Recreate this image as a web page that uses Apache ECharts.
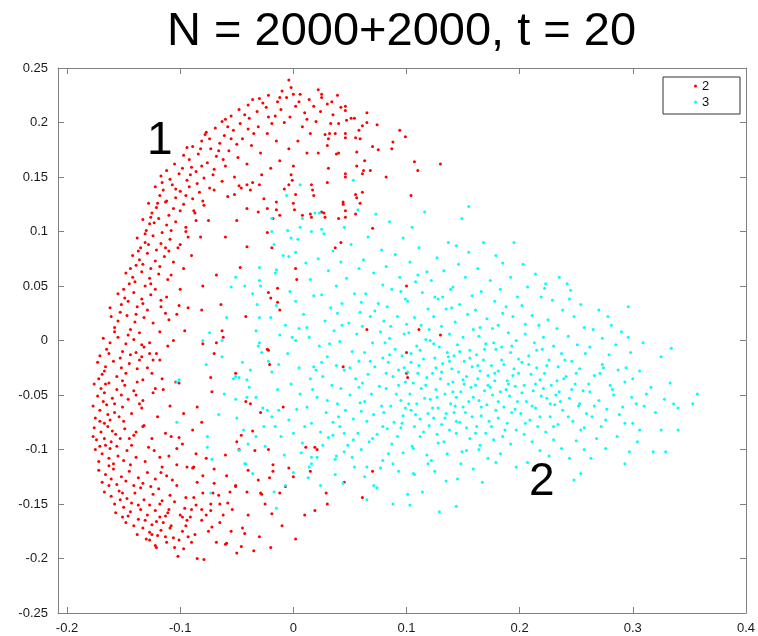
<!DOCTYPE html>
<html>
<head>
<meta charset="utf-8">
<title>N = 2000+2000, t = 20</title>
<script src="https://cdn.jsdelivr.net/npm/echarts@6.0.0/dist/echarts.min.js"></script>
<style>
  html, body { margin: 0; padding: 0; background: #fff; }
  #chart { width: 758px; height: 636px; }
</style>
</head>
<body>
<div id="chart"></div>
<script>
// values (estimated where points are dense)
const seriesNames = ["2", "3"];
const xTicks = [-0.2, -0.1, 0, 0.1, 0.2, 0.3, 0.4];

// cluster 1 (red): horseshoe
const redPoints = [
  // top arc, right part
  [0.130,0.162],[0.099,0.187],[0.094,0.193],[0.107,0.164],[0.110,0.156],[0.088,0.182],[0.087,0.176],[0.082,0.150],[0.104,0.133],[0.074,0.198],
  [0.075,0.175],[0.070,0.178],[0.065,0.209],[0.065,0.200],[0.056,0.131],[0.059,0.126],[0.068,0.156],[0.062,0.156],[0.061,0.153],[0.056,0.160],
  [0.063,0.165],[0.056,0.173],[0.058,0.193],[0.059,0.185],[0.061,0.197],[0.054,0.204],[0.051,0.204],[0.046,0.215],[0.046,0.211],[0.039,0.225],
  [0.042,0.214],[0.034,0.219],[0.030,0.217],[0.025,0.226],[0.025,0.223],[0.022,0.230],[0.035,0.207],[0.040,0.199],[0.047,0.202],[0.033,0.199],
  [0.037,0.190],[0.046,0.190],[0.046,0.186],[0.055,0.186],[0.032,0.190],[0.028,0.189],[0.031,0.185],[0.030,0.179],[0.040,0.172],[0.038,0.171],
  [0.022,0.172],[0.031,0.158],[0.030,0.145],[0.046,0.153],[0.046,0.150],[0.044,0.125],[0.046,0.119],[0.055,0.116],[0.046,0.113],[0.040,0.112],
  [0.027,0.117],[0.018,0.133],[0.017,0.138],[0.016,0.143],[-0.004,0.143],[-0.001,0.147],[0.002,0.134],[0.000,0.126],[0.001,0.120],[0.008,0.115],
  [0.015,0.116],[0.016,0.113],[-0.015,0.120],[-0.012,0.115],[0.055,0.134],[0.061,0.136],[0.025,0.118],[0.028,0.113],[0.044,0.127],[0.042,0.090],
  [0.037,0.085],[0.070,0.103],
  // upper interior
  [-0.052,0.134],[-0.048,0.142],[-0.041,0.143],[-0.038,0.138],[-0.030,0.143],[-0.041,0.121],[-0.031,0.118],[-0.026,0.130],[-0.023,0.099],[-0.019,0.085],
  [-0.041,0.086],[-0.047,0.067],[-0.042,0.022],[-0.022,0.044],[-0.020,0.039],[-0.014,0.048],[-0.014,0.035],[-0.012,0.028],[0.002,0.066],[0.003,0.056],
  [-0.008,0.139],[-0.002,0.152],[-0.023,0.121],[-0.015,0.127],[-0.018,0.112],
  // points among cluster 2
  [0.100,0.050],[0.065,0.010],[0.111,0.010],[0.130,0.005],[0.100,-0.011],[0.100,-0.030],[0.101,-0.034],[0.044,-0.024],[-0.021,-0.022],[-0.022,-0.009],
  [-0.051,-0.030],[-0.009,-0.061],[-0.029,-0.066],[-0.023,-0.008],[-0.042,-0.056],[-0.038,-0.058],
  // lower interior
  [-0.046,-0.087],[-0.036,-0.083],[-0.050,-0.093],[-0.048,-0.100],[-0.034,-0.101],[-0.022,-0.100],[0.011,-0.098],[0.019,-0.098],[0.021,-0.100],[-0.018,-0.114],
  [-0.018,-0.120],[-0.040,-0.119],[-0.004,-0.117],[-0.031,-0.128],[-0.021,-0.126],[-0.007,-0.134],[-0.051,-0.134],[-0.041,-0.139],[-0.028,-0.141],[-0.056,-0.139],
  [0.029,-0.140],[0.061,-0.144],[-0.054,-0.155],[-0.019,-0.159],[0.019,-0.156],[-0.045,-0.172],[-0.043,-0.177],[0.002,-0.182],[-0.046,-0.189],[-0.035,-0.193],
  [-0.029,-0.140],
  // left interior, sparse
  [-0.064,0.033],[-0.081,0.028],[-0.101,0.032],[-0.103,0.024],[-0.110,0.019],[-0.117,0.031],[-0.113,0.025],[-0.062,0.003],[-0.063,0.009],[-0.068,-0.002],
  [-0.070,-0.012],[-0.096,0.009],[-0.106,0.000],[-0.080,-0.003],[-0.073,-0.034],[-0.072,-0.047],[-0.085,-0.061],[-0.097,-0.067],[-0.081,-0.075],[-0.089,-0.082],
  [-0.101,-0.089],[-0.108,-0.088],[-0.103,-0.099],[-0.086,-0.104],[-0.077,-0.108],[-0.094,-0.116],[-0.089,-0.117],[-0.088,-0.116],[-0.080,-0.124],[-0.070,-0.131],
  [-0.059,-0.124],[-0.051,-0.133],[-0.071,-0.140],[-0.066,-0.142],[-0.058,-0.149],[-0.073,-0.150],[-0.073,-0.156],[-0.081,-0.155],[-0.088,-0.144],[-0.086,-0.151],
  [-0.094,-0.165],[-0.091,-0.162],[-0.081,-0.165],[-0.077,-0.160],[-0.072,-0.171],[-0.065,-0.167],[-0.060,-0.187],[-0.059,-0.186],[-0.102,-0.198],[-0.085,-0.200],
  [-0.079,-0.201],[-0.121,-0.190],[-0.105,-0.190],[-0.097,-0.191],[-0.093,-0.180],[-0.087,-0.178],[-0.113,-0.180],[-0.106,-0.181],[-0.127,-0.183],[-0.125,-0.178],
  [-0.109,-0.172],[-0.098,-0.162],[-0.111,-0.158],[-0.118,-0.162],[-0.096,-0.154],[-0.095,-0.144],[-0.105,-0.148],[-0.107,-0.128],[-0.103,-0.133],[-0.112,-0.124],
  [-0.116,-0.116],[-0.117,-0.121],[-0.103,-0.114],[-0.110,-0.106],[-0.118,-0.107],[-0.123,-0.101],[-0.128,-0.098],[-0.131,-0.111],[-0.133,-0.079],[-0.132,-0.078],
  [-0.139,-0.084],[-0.121,-0.012],[-0.127,-0.012],[-0.129,-0.025],[-0.134,-0.015],[-0.136,-0.018],[-0.132,-0.006],[-0.127,-0.002],[-0.124,-0.018],[-0.118,-0.018],
  [-0.133,-0.055],[-0.136,-0.058],[-0.139,-0.050],[-0.134,-0.062],[-0.138,-0.038],[-0.133,-0.036],[-0.124,-0.048],[-0.116,-0.035],[-0.104,-0.038],[-0.101,-0.039],
  [-0.122,-0.044],
  // left dense band
  [-0.117,0.151],[-0.109,0.148],[-0.101,0.153],[-0.094,0.147],[-0.086,0.155],[-0.079,0.149],[-0.071,0.152],[-0.063,0.146],[-0.112,0.156],[-0.098,0.158],
  [-0.122,0.141],[-0.115,0.138],[-0.107,0.143],[-0.100,0.137],[-0.092,0.141],[-0.083,0.136],[-0.074,0.140],[-0.118,0.133],[-0.104,0.131],[-0.089,0.130],
  [-0.128,0.126],[-0.121,0.122],[-0.113,0.127],[-0.106,0.121],[-0.097,0.125],[-0.088,0.119],[-0.079,0.124],[-0.125,0.117],[-0.110,0.115],
  [-0.133,0.111],[-0.127,0.107],[-0.119,0.112],[-0.112,0.106],[-0.104,0.109],[-0.095,0.104],[-0.086,0.110],[-0.130,0.101],[-0.116,0.099],
  [-0.138,0.094],[-0.131,0.090],[-0.124,0.096],[-0.117,0.089],[-0.109,0.093],[-0.100,0.088],[-0.093,0.095],[-0.135,0.085],[-0.121,0.083],
  [-0.142,0.078],[-0.136,0.074],[-0.129,0.080],[-0.122,0.073],[-0.114,0.077],[-0.106,0.072],[-0.139,0.069],[-0.126,0.066],[-0.110,0.082],
  [-0.148,0.062],[-0.142,0.058],[-0.134,0.063],[-0.127,0.057],[-0.119,0.061],[-0.111,0.056],[-0.145,0.052],[-0.131,0.050],[-0.122,0.047],
  [-0.155,0.043],[-0.149,0.039],[-0.141,0.044],[-0.134,0.038],[-0.126,0.042],[-0.117,0.037],[-0.152,0.033],[-0.138,0.031],[-0.129,0.028],
  [-0.161,0.022],[-0.155,0.018],[-0.147,0.023],[-0.140,0.017],[-0.132,0.021],[-0.124,0.016],[-0.158,0.012],[-0.144,0.010],[-0.136,0.007],
  [-0.168,0.002],[-0.162,-0.002],[-0.155,0.003],[-0.148,-0.003],[-0.141,0.001],[-0.134,-0.004],[-0.165,-0.008],[-0.151,-0.010],[-0.144,-0.013],[-0.171,-0.014],
  [-0.173,-0.020],[-0.166,-0.024],[-0.159,-0.019],[-0.152,-0.025],[-0.145,-0.021],[-0.138,-0.026],[-0.169,-0.031],[-0.156,-0.033],[-0.148,-0.030],
  [-0.176,-0.040],[-0.170,-0.044],[-0.163,-0.039],[-0.156,-0.045],[-0.149,-0.041],[-0.141,-0.046],[-0.173,-0.051],[-0.160,-0.053],[-0.152,-0.050],[-0.167,-0.048],
  [-0.177,-0.060],[-0.171,-0.064],[-0.165,-0.059],[-0.158,-0.066],[-0.151,-0.061],[-0.143,-0.067],[-0.175,-0.071],[-0.162,-0.073],[-0.154,-0.070],[-0.168,-0.056],
  [-0.176,-0.080],[-0.170,-0.084],[-0.164,-0.079],[-0.157,-0.086],[-0.149,-0.081],[-0.141,-0.087],[-0.174,-0.091],[-0.161,-0.093],[-0.153,-0.090],[-0.167,-0.076],
  [-0.175,-0.100],[-0.169,-0.104],[-0.162,-0.099],[-0.155,-0.106],[-0.147,-0.101],[-0.139,-0.107],[-0.172,-0.111],[-0.159,-0.113],[-0.150,-0.110],[-0.166,-0.096],[-0.143,-0.096],
  [-0.172,-0.119],[-0.166,-0.123],[-0.159,-0.118],[-0.152,-0.125],[-0.145,-0.120],[-0.137,-0.126],[-0.129,-0.121],[-0.122,-0.127],[-0.169,-0.130],[-0.156,-0.132],[-0.148,-0.129],[-0.133,-0.131],[-0.163,-0.115],
  [-0.167,-0.139],[-0.161,-0.143],[-0.154,-0.138],[-0.147,-0.145],[-0.140,-0.140],[-0.132,-0.146],[-0.124,-0.141],[-0.116,-0.147],[-0.109,-0.142],[-0.158,-0.150],[-0.150,-0.153],[-0.143,-0.149],[-0.135,-0.155],[-0.127,-0.151],[-0.119,-0.136],
  [-0.157,-0.158],[-0.151,-0.162],[-0.144,-0.157],[-0.137,-0.164],[-0.129,-0.160],[-0.121,-0.166],[-0.113,-0.161],[-0.141,-0.170],[-0.133,-0.172],[-0.125,-0.169],[-0.117,-0.174],[-0.148,-0.167],
  [-0.138,-0.178],[-0.130,-0.182],[-0.120,-0.179],[-0.112,-0.185],[-0.101,-0.183],[-0.122,-0.188],
  // left dense band, second pass
  [-0.105,0.162],[-0.097,0.170],[-0.090,0.159],[-0.082,0.176],[-0.074,0.185],[-0.066,0.174],[-0.058,0.196],[-0.050,0.180],[-0.043,0.207],[-0.035,0.190],
  [-0.027,0.218],[-0.019,0.199],[-0.011,0.212],[-0.003,0.205],[0.005,0.219],[0.012,0.203],[-0.070,0.157],[-0.062,0.166],[-0.085,0.144],[-0.095,0.133],
  [-0.112,0.128],[-0.100,0.119],[-0.123,0.108],[-0.108,0.101],[-0.128,0.088],[-0.113,0.085],[-0.133,0.070],[-0.118,0.068],[-0.140,0.054],[-0.126,0.052],
  [-0.146,0.036],[-0.133,0.034],[-0.153,0.026],[-0.139,0.024],[-0.158,0.008],[-0.146,0.005],[-0.163,-0.012],[-0.139,-0.011],[-0.167,-0.028],[-0.151,-0.037],
  [-0.172,-0.035],[-0.158,-0.058],[-0.146,-0.054],[-0.171,-0.074],[-0.150,-0.074],[-0.167,-0.090],[-0.145,-0.090],[-0.171,-0.097],[-0.156,-0.097],[-0.163,-0.108],
  [-0.144,-0.114],[-0.161,-0.127],[-0.141,-0.133],[-0.126,-0.134],[-0.163,-0.133],[-0.151,-0.140],[-0.137,-0.151],[-0.122,-0.156],[-0.153,-0.146],[-0.131,-0.165],
  [-0.115,-0.167],[-0.146,-0.161],[-0.127,-0.176],[-0.108,-0.170],[-0.135,-0.135],[-0.118,-0.150],[-0.110,-0.155],[-0.164,-0.068],[-0.177,-0.088],[-0.160,-0.083],
  [-0.166,-0.040],[-0.153,-0.016],[-0.162,0.030],[-0.150,0.047],[-0.144,0.066],[-0.137,0.082],[-0.131,0.098],[-0.126,0.113],[-0.120,0.126],[-0.116,0.145],
  [-0.104,0.139],[-0.091,0.152],[-0.081,0.160],[-0.055,0.185],[-0.040,0.194],[-0.022,0.205],[-0.012,0.223],[0.000,0.226],[-0.036,0.221],[-0.060,0.203],
  [-0.078,0.189],[-0.094,0.177],
  // top arc, dense part
  [-0.092,0.166],[-0.084,0.171],[-0.076,0.163],[-0.068,0.169],[-0.060,0.160],[-0.089,0.178],[-0.081,0.183],[-0.073,0.176],[-0.065,0.181],[-0.057,0.174],
  [-0.049,0.168],[-0.041,0.162],[-0.077,0.191],[-0.069,0.195],[-0.061,0.188],[-0.053,0.193],[-0.045,0.185],[-0.037,0.179],[-0.029,0.172],[-0.063,0.201],
  [-0.055,0.206],[-0.047,0.199],[-0.039,0.204],[-0.031,0.196],[-0.023,0.190],[-0.015,0.183],[-0.048,0.212],[-0.040,0.216],[-0.032,0.210],[-0.024,0.214],
  [-0.016,0.206],[-0.008,0.200],[-0.030,0.222],[-0.022,0.225],[-0.014,0.219],[-0.006,0.223],[0.002,0.215],[0.010,0.209],[-0.010,0.229],[-0.002,0.232],
  [0.006,0.226],[0.014,0.221],[-0.004,0.239],[0.008,0.196],[0.015,0.190],[0.004,0.183],[-0.004,0.176],[0.012,0.172],[-0.012,0.165],[-0.020,0.158],
  [-0.028,0.152],[0.000,0.160],[0.020,0.201],[0.024,0.210],[0.018,0.215],[-0.036,0.145],[-0.052,0.150],[-0.070,0.138],[-0.058,0.132],[-0.080,0.128],
  [-0.046,0.140],[-0.087,0.117],[-0.075,0.110],[-0.095,0.100],[-0.082,0.095],[-0.102,0.085],[-0.090,0.078],[-0.097,0.066],
  // scattered extras
  [-0.108,0.060],[-0.100,0.047],[-0.112,0.040],[-0.093,0.030],[-0.118,0.008],[-0.111,-0.005],[-0.125,-0.030],[-0.115,-0.045],[-0.109,-0.060],[-0.120,-0.070],
  [-0.113,-0.085],[-0.098,-0.095],[-0.125,-0.090],[-0.060,0.095],[-0.068,0.060],[-0.080,0.050],[-0.050,0.110],
  [-0.095,-0.170],[-0.090,-0.185],[-0.075,-0.175],[-0.068,-0.185],[-0.062,-0.160],[-0.055,-0.175],[-0.050,-0.195],[-0.040,-0.160],[-0.030,-0.180],
  [-0.020,-0.190],[-0.010,-0.170],[0.010,-0.160],[0.030,-0.150],[0.045,-0.130],[0.070,-0.120],[-0.025,-0.150],[-0.012,-0.140],[0.000,-0.125],[0.015,-0.120],
  [-0.065,-0.150],[-0.080,-0.140],[-0.085,-0.130],[-0.070,-0.118],[-0.060,-0.105],[-0.090,-0.155],[-0.100,-0.160],[-0.098,-0.175]
];

// cluster 2 (cyan): fan
const cyanPoints = [
  [-0.103,-0.038],[-0.101,-0.036],[-0.080,0.000],[-0.074,0.007],[-0.063,0.000],[-0.077,-0.022],[-0.103,-0.075],[-0.076,-0.088],[-0.076,-0.098],[-0.073,-0.140],
  [-0.072,-0.109],[-0.063,-0.015],[-0.066,-0.068],[-0.061,-0.049],
  [-0.059,0.021],[-0.053,-0.035],[-0.051,-0.054],[-0.051,-0.033],[-0.048,-0.034],[-0.045,-0.020],[-0.048,-0.101],[-0.043,-0.113],[-0.042,-0.113],[-0.041,-0.036],
  [-0.041,-0.052],[-0.050,-0.071],[-0.044,-0.082],
  [-0.039,-0.043],[-0.040,-0.095],[-0.033,0.009],[-0.030,0.021],[-0.032,0.033],[-0.030,-0.002],[-0.031,-0.005],[-0.028,-0.011],[-0.022,-0.019],[-0.033,-0.052],
  [-0.027,-0.062],[-0.023,-0.064],[-0.026,-0.079],[-0.033,-0.088],[-0.025,-0.097],[-0.038,-0.027],[-0.036,-0.122],[-0.029,0.050],
  [-0.020,0.021],[-0.015,0.032],[-0.013,-0.022],[-0.019,-0.029],[-0.019,-0.070],[-0.013,-0.064],[-0.016,-0.079],[-0.015,-0.154],[-0.017,-0.139],[-0.007,-0.133],
  [-0.011,-0.088],[-0.004,-0.073],[-0.007,0.014],[-0.019,0.112],[-0.006,0.133],[-0.016,0.062],[-0.009,0.078],[-0.003,0.045],[-0.012,0.005],[-0.002,-0.040],
  [-0.008,-0.105],[-0.017,0.088],[-0.005,-0.012],[-0.014,-0.045],
  [-0.055,0.049],[-0.051,0.058],[-0.043,0.050],[-0.036,0.043],[-0.030,0.055],[-0.030,0.067],[-0.015,0.065],[-0.004,0.077],[0.002,0.081],[-0.019,0.100],
  [-0.005,0.101],[0.006,0.104],[0.016,0.100],[0.025,0.102],[-0.002,0.094],
  [0.000,-0.085],[-0.001,0.003],[0.002,0.000],[0.005,0.011],[0.012,0.012],[0.014,0.003],[0.020,-0.027],[0.018,-0.024],[0.017,-0.045],[0.006,-0.049],
  [0.012,-0.061],[0.003,-0.063],[0.016,-0.076],[0.010,-0.079],[0.007,-0.103],[0.016,-0.107],[0.014,-0.116],[0.016,-0.113],[0.000,-0.121],[0.013,-0.126],
  [0.006,0.143],[0.008,0.112],[0.019,0.117],[0.004,0.093],[0.011,0.071],[0.015,0.056],[0.002,0.036],[0.009,0.024],[0.018,0.041],[0.008,-0.094],
  [0.023,0.117],[0.027,0.098],[0.035,0.082],[0.022,0.075],[0.031,0.064],[0.038,0.050],[0.025,0.042],[0.033,0.030],[0.028,0.018],[0.036,0.009],
  [0.023,-0.005],[0.030,-0.015],[0.038,-0.023],[0.026,-0.033],[0.034,-0.041],[0.021,-0.052],[0.039,-0.058],[0.029,-0.066],[0.035,-0.075],[0.024,-0.084],
  [0.031,-0.089],[0.035,-0.087],[0.038,-0.106],[0.037,-0.109],[0.021,-0.107],[0.037,-0.123],[0.024,-0.133],[0.026,-0.096],[0.032,-0.003],[0.039,0.025],
  [0.053,0.147],[0.057,0.120],[0.045,0.104],[0.051,0.088],[0.042,0.072],[0.058,0.066],[0.047,0.057],[0.054,0.043],[0.043,0.034],[0.059,0.026],
  [0.049,0.016],[0.056,0.006],[0.041,-0.001],[0.052,-0.010],[0.058,-0.019],[0.045,-0.027],[0.055,-0.035],[0.042,-0.044],[0.050,-0.050],[0.059,-0.057],
  [0.046,-0.064],[0.053,-0.072],[0.041,-0.079],[0.057,-0.085],[0.053,-0.091],[0.045,-0.102],[0.052,-0.107],[0.054,-0.116],[0.044,-0.131],[0.048,-0.096],
  [0.058,-0.043],[0.043,0.014],
  [0.073,0.116],[0.066,0.095],[0.078,0.083],[0.062,0.074],[0.071,0.062],[0.079,0.051],[0.064,0.043],[0.075,0.034],[0.068,0.022],[0.061,0.013],
  [0.077,0.008],[0.070,-0.002],[0.063,-0.011],[0.079,-0.016],[0.072,-0.024],[0.066,-0.031],[0.061,-0.039],[0.076,-0.042],[0.069,-0.049],[0.063,-0.056],
  [0.078,-0.060],[0.071,-0.068],[0.065,-0.074],[0.079,-0.079],[0.074,-0.086],[0.067,-0.093],[0.063,-0.125],[0.065,-0.116],[0.071,-0.133],[0.074,-0.135],
  [0.065,-0.146],[0.077,-0.117],[0.079,-0.110],[0.060,-0.100],[0.072,0.027],[0.068,-0.019],
  [0.085,0.109],[0.097,0.094],[0.090,0.079],[0.082,0.068],[0.094,0.058],[0.087,0.047],[0.099,0.038],[0.083,0.031],[0.092,0.022],[0.086,0.013],
  [0.098,0.006],[0.081,-0.002],[0.090,-0.008],[0.096,-0.014],[0.084,-0.020],[0.093,-0.027],[0.088,-0.033],[0.099,-0.038],[0.082,-0.044],[0.091,-0.049],
  [0.095,-0.055],[0.086,-0.060],[0.080,-0.066],[0.097,-0.069],[0.089,-0.075],[0.083,-0.081],[0.095,-0.080],[0.096,-0.076],[0.092,-0.088],[0.087,-0.095],
  [0.088,-0.113],[0.084,-0.104],[0.088,-0.150],[0.097,-0.103],[0.093,-0.120],[0.082,-0.030],[0.098,-0.025],[0.085,0.002],
  [0.116,0.118],[0.105,0.104],[0.111,0.085],[0.103,0.072],[0.118,0.063],[0.108,0.054],[0.114,0.044],[0.101,0.036],[0.119,0.029],[0.107,0.021],
  [0.113,0.014],[0.102,0.007],[0.117,0.001],[0.109,-0.005],[0.104,-0.012],[0.115,-0.017],[0.111,-0.023],[0.101,-0.029],[0.118,-0.034],[0.106,-0.039],
  [0.113,-0.044],[0.103,-0.049],[0.116,-0.053],[0.109,-0.058],[0.104,-0.064],[0.119,-0.067],[0.112,-0.072],[0.107,-0.079],[0.115,-0.084],[0.105,-0.097],
  [0.106,-0.099],[0.101,-0.141],[0.103,-0.151],[0.106,-0.122],[0.114,-0.139],[0.107,-0.123],[0.119,-0.113],[0.112,-0.088],[0.118,-0.105],[0.110,-0.030],
  [0.102,-0.058],
  [0.137,0.090],[0.127,0.076],[0.133,0.064],[0.122,0.055],[0.139,0.047],[0.128,0.038],[0.135,0.029],[0.124,0.022],[0.131,0.013],[0.138,0.006],
  [0.121,0.000],[0.129,-0.006],[0.136,-0.011],[0.125,-0.016],[0.132,-0.021],[0.140,-0.026],[0.123,-0.030],[0.130,-0.035],[0.137,-0.040],[0.126,-0.045],
  [0.134,-0.049],[0.121,-0.054],[0.139,-0.058],[0.128,-0.062],[0.135,-0.067],[0.124,-0.071],[0.131,-0.077],[0.138,-0.082],[0.127,-0.086],[0.133,-0.093],
  [0.128,-0.094],[0.135,-0.129],[0.129,-0.157],[0.122,-0.110],[0.136,-0.104],[0.125,-0.120],[0.132,0.040],[0.126,-0.025],[0.137,-0.015],[0.123,-0.062],
  [0.149,0.112],[0.155,0.123],[0.144,0.087],[0.155,0.081],[0.146,0.070],[0.152,0.058],[0.141,0.049],[0.158,0.041],[0.147,0.033],[0.154,0.024],
  [0.143,0.017],[0.159,0.010],[0.150,0.003],[0.145,-0.004],[0.156,-0.009],[0.142,-0.014],[0.151,-0.019],[0.158,-0.024],[0.146,-0.029],[0.153,-0.033],
  [0.141,-0.038],[0.157,-0.043],[0.148,-0.047],[0.144,-0.052],[0.155,-0.056],[0.150,-0.061],[0.142,-0.066],[0.158,-0.070],[0.147,-0.075],[0.153,-0.080],
  [0.144,-0.085],[0.156,-0.090],[0.153,-0.101],[0.149,-0.102],[0.145,-0.127],[0.144,-0.152],[0.148,-0.113],[0.159,-0.118],[0.151,-0.040],[0.143,-0.060],
  [0.168,0.090],[0.179,0.078],[0.163,0.066],[0.174,0.055],[0.166,0.045],[0.178,0.036],[0.161,0.028],[0.171,0.020],[0.176,0.011],[0.164,0.004],
  [0.170,-0.003],[0.179,-0.008],[0.162,-0.013],[0.168,-0.018],[0.175,-0.023],[0.165,-0.028],[0.172,-0.032],[0.178,-0.037],[0.161,-0.041],[0.169,-0.046],
  [0.176,-0.050],[0.164,-0.055],[0.171,-0.059],[0.179,-0.064],[0.166,-0.069],[0.173,-0.074],[0.162,-0.079],[0.170,-0.085],[0.177,-0.091],[0.165,-0.096],
  [0.164,-0.100],[0.167,-0.130],[0.179,-0.112],[0.172,-0.108],[0.174,-0.043],[0.163,-0.035],[0.177,-0.002],
  [0.195,0.090],[0.185,0.071],[0.192,0.058],[0.183,0.047],[0.198,0.040],[0.188,0.031],[0.194,0.022],[0.181,0.014],[0.190,0.007],[0.197,0.000],
  [0.184,-0.006],[0.192,-0.011],[0.199,-0.017],[0.186,-0.022],[0.181,-0.028],[0.194,-0.032],[0.189,-0.037],[0.196,-0.042],[0.183,-0.047],[0.191,-0.051],
  [0.198,-0.056],[0.186,-0.061],[0.193,-0.066],[0.181,-0.071],[0.189,-0.076],[0.197,-0.082],[0.185,-0.088],[0.192,-0.095],[0.197,-0.116],[0.183,-0.104],
  [0.188,-0.045],[0.195,-0.026],
  [0.203,0.070],[0.214,0.061],[0.207,0.049],[0.219,0.040],[0.202,0.032],[0.211,0.023],[0.217,0.014],[0.205,0.006],[0.213,-0.002],[0.220,-0.008],
  [0.208,-0.014],[0.202,-0.020],[0.215,-0.025],[0.210,-0.031],[0.218,-0.036],[0.204,-0.041],[0.212,-0.046],[0.219,-0.051],[0.206,-0.056],[0.214,-0.062],
  [0.201,-0.067],[0.209,-0.073],[0.216,-0.079],[0.204,-0.086],[0.211,-0.093],[0.218,-0.101],[0.207,-0.112],[0.214,-0.040],
  [0.235,0.058],[0.223,0.052],[0.222,0.048],[0.229,0.037],[0.238,0.028],[0.225,0.019],[0.233,0.011],[0.221,0.003],[0.230,-0.005],[0.237,-0.012],
  [0.226,-0.018],[0.234,-0.024],[0.222,-0.030],[0.239,-0.035],[0.228,-0.041],[0.235,-0.047],[0.224,-0.053],[0.231,-0.059],[0.238,-0.064],[0.227,-0.070],
  [0.234,-0.077],[0.223,-0.084],[0.230,-0.091],[0.237,-0.099],[0.226,-0.106],[0.232,-0.050],
  [0.242,0.052],[0.245,0.046],[0.244,0.038],[0.254,0.033],[0.248,0.022],[0.257,0.012],[0.243,0.004],[0.251,-0.004],[0.258,-0.012],[0.246,-0.019],
  [0.253,-0.026],[0.241,-0.033],[0.249,-0.040],[0.256,-0.046],[0.244,-0.053],[0.252,-0.060],[0.259,-0.067],[0.247,-0.074],[0.254,-0.082],[0.244,-0.108],
  [0.248,-0.128],[0.254,-0.122],[0.250,-0.092],[0.257,-0.100],
  [0.270,0.028],[0.278,0.022],[0.265,0.010],[0.273,0.002],[0.262,-0.006],[0.279,-0.013],[0.273,-0.022],[0.274,-0.025],[0.266,-0.032],[0.280,-0.041],
  [0.262,-0.047],[0.270,-0.055],[0.277,-0.063],[0.264,-0.070],[0.272,-0.079],[0.268,-0.090],[0.276,-0.099],[0.263,-0.108],
  [0.281,0.014],[0.290,0.008],[0.296,0.003],[0.296,0.031],[0.285,-0.004],[0.298,-0.011],[0.293,-0.038],[0.287,-0.027],[0.283,-0.050],[0.291,-0.061],
  [0.293,-0.076],[0.297,-0.102],[0.293,-0.113],[0.286,-0.088],[0.299,-0.052],
  [0.309,-0.002],[0.306,-0.028],[0.300,-0.035],[0.316,-0.043],[0.312,-0.049],[0.320,-0.066],[0.304,-0.093],[0.306,-0.082],[0.300,-0.076],[0.318,-0.102],
  [0.310,-0.060],
  [0.334,-0.007],[0.325,-0.015],[0.333,-0.039],[0.328,-0.054],[0.336,-0.058],[0.329,-0.102],[0.325,-0.082],[0.340,-0.082],[0.340,-0.062],[0.357,-0.049],
  [0.353,-0.058],
  // dense core, second pass
  [0.085,-0.013],[0.093,-0.041],[0.099,-0.062],[0.104,-0.020],[0.108,-0.068],[0.112,-0.009],[0.117,-0.041],[0.120,-0.078],[0.124,-0.003],[0.127,-0.052],
  [0.131,-0.029],[0.134,-0.071],[0.138,-0.019],[0.141,-0.047],[0.144,-0.074],[0.147,-0.010],[0.150,-0.036],[0.152,-0.066],[0.156,-0.016],[0.159,-0.052],
  [0.161,-0.085],[0.163,-0.023],[0.166,-0.061],[0.169,-0.008],[0.172,-0.041],[0.175,-0.079],[0.178,-0.030],[0.181,-0.056],[0.184,-0.018],[0.187,-0.082],
  [0.190,-0.040],[0.193,-0.005],[0.196,-0.063],[0.199,-0.030],[0.202,-0.048],[0.205,-0.076],[0.208,-0.022],[0.211,-0.060],[0.215,-0.009],[0.218,-0.070],
  [0.221,-0.044],[0.224,-0.023],[0.227,-0.058],[0.230,-0.079],[0.233,-0.037],[0.236,-0.056],[0.240,-0.018],[0.243,-0.070],[0.246,-0.045],[0.250,-0.030],
  [0.253,-0.058],[0.257,-0.080],[0.261,-0.040],[0.266,-0.060],[0.271,-0.030],[0.276,-0.073],[0.282,-0.045],[0.288,-0.068],[0.294,-0.025],[0.303,-0.058],
  [0.030,-0.055],[0.040,-0.070],[0.050,-0.025],[0.060,-0.065],[0.070,-0.090],[0.045,-0.085],[0.025,-0.020],[0.015,-0.035],[0.005,-0.025],[0.060,0.035],
  [0.080,0.018],[0.095,0.045],[0.110,0.060],[0.125,0.040],[0.140,0.030],[0.165,0.012],[0.185,0.025],[0.205,0.015],[0.120,0.010],[0.100,0.015]
];

const chart = echarts.init(document.getElementById("chart"));
const font = "'Liberation Sans', Arial, Helvetica, sans-serif";
const boxAxisLine = { show: true, onZero: false, lineStyle: { color: "#808080", width: 1 } };
const innerTick = { show: true, inside: true, length: 6, lineStyle: { color: "#808080" } };

const option = {
  animation: false,
  backgroundColor: "#fff",
  textStyle: { fontFamily: font },
  title: {
    text: "N = 2000+2000, t = 20",
    left: 162,
    top: 4,
    textStyle: { fontSize: 47, fontWeight: "normal", color: "#000", fontFamily: font }
  },
  legend: {
    data: seriesNames,
    right: 18,
    top: 77,
    orient: "vertical",
    icon: "circle",
    itemWidth: 3,
    itemHeight: 3,
    itemGap: 0,
    padding: [1, 9, 4, 31],
    borderColor: "#333",
    borderWidth: 1,
    backgroundColor: "#fff",
    textStyle: { fontSize: 13, color: "#111", width: 29, align: "right", lineHeight: 16 }
  },
  grid: { left: 58, right: 9, top: 68, bottom: 23 },
  xAxis: [
    {
      type: "value",
      min: -0.208,
      max: 0.4,
      axisLine: boxAxisLine,
      axisTick: Object.assign({ customValues: xTicks }, innerTick),
      axisLabel: { customValues: xTicks, margin: 9, fontSize: 13, color: "#1a1a1a" },
      splitLine: { show: false }
    },
    {
      type: "value",
      position: "top",
      min: -0.208,
      max: 0.4,
      axisLine: boxAxisLine,
      axisTick: Object.assign({ customValues: xTicks }, innerTick),
      axisLabel: { show: false },
      splitLine: { show: false }
    }
  ],
  yAxis: [
    {
      type: "value",
      min: -0.25,
      max: 0.25,
      interval: 0.05,
      axisLine: boxAxisLine,
      axisTick: innerTick,
      axisLabel: { margin: 10, fontSize: 13, color: "#1a1a1a" },
      splitLine: { show: false }
    },
    {
      type: "value",
      position: "right",
      min: -0.25,
      max: 0.25,
      interval: 0.05,
      axisLine: boxAxisLine,
      axisTick: innerTick,
      axisLabel: { show: false },
      splitLine: { show: false }
    }
  ],
  series: [
    {
      name: seriesNames[0],
      type: "scatter",
      data: redPoints,
      symbolSize: 3,
      itemStyle: { color: "#ff0000", opacity: 1 },
      silent: true
    },
    {
      name: seriesNames[1],
      type: "scatter",
      data: cyanPoints,
      symbolSize: 3,
      itemStyle: { color: "#00ffff", opacity: 1 },
      silent: true
    }
  ],
  graphic: [
    { type: "text", left: 147, top: 118, style: { text: "1", fontSize: 46, fill: "#000", fontFamily: font } },
    { type: "text", left: 529, top: 459, style: { text: "2", fontSize: 46, fill: "#000", fontFamily: font } }
  ]
};

chart.setOption(option);
</script>
</body>
</html>
